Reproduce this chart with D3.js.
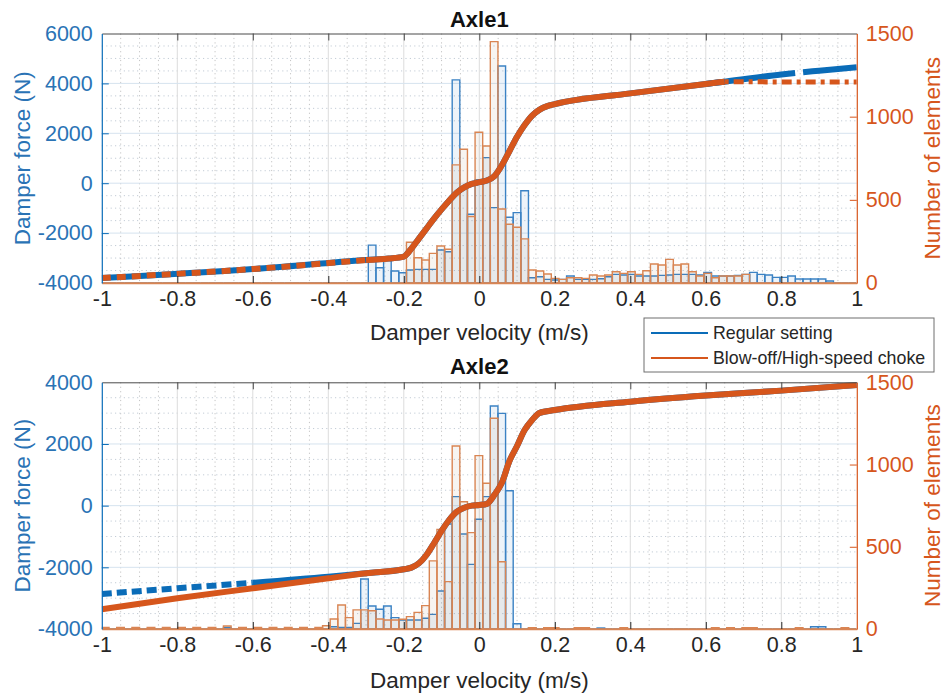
<!DOCTYPE html>
<html><head><meta charset="utf-8">
<script src="https://cdn.jsdelivr.net/npm/d3@7"></script>
<style>
body{margin:0;background:#fff}
svg{display:block}
text{font-family:"Liberation Sans",Arial,Helvetica,sans-serif}
</style>
</head><body>
<svg id="chart" width="944" height="697"></svg>
<script>
// ---------------- DATA ----------------
const velocityTicks = [-1, -0.8, -0.6, -0.4, -0.2, 0, 0.2, 0.4, 0.6, 0.8, 1];
const velocityTickLabels = ["-1", "-0.8", "-0.6", "-0.4", "-0.2", "0", "0.2", "0.4", "0.6", "0.8", "1"];
const axle1ForceTicks = [-4000, -2000, 0, 2000, 4000, 6000];
const axle2ForceTicks = [-4000, -2000, 0, 2000, 4000];
const countTicks = [0, 500, 1000, 1500];
const seriesNames = ["Regular setting", "Blow-off/High-speed choke"];
const panelTitles = ["Axle1", "Axle2"];

// damper characteristic curves (velocity m/s -> force N)
const axle1Velocity = [-1, -0.6, -0.3, -0.24, -0.2, -0.18, -0.16, -0.14, -0.12, -0.1, -0.08, -0.06, -0.04, -0.02, 0, 0.02, 0.04, 0.06, 0.08, 0.1, 0.12, 0.14, 0.16, 0.18, 0.2, 0.4, 0.6, 0.65, 0.8, 0.9, 1];
const axle1ForceRegular = [-3800, -3440, -3080, -3020, -2940, -2620, -2220, -1820, -1420, -1050, -700, -380, -165, -30, 40, 110, 280, 730, 1290, 1860, 2330, 2710, 2950, 3090, 3170, 3600, 3980, 4070, 4360, 4510, 4650];
const axle1ForceBlowoff = [-3800, -3440, -3080, -3020, -2940, -2620, -2220, -1820, -1420, -1050, -700, -380, -165, -30, 40, 110, 280, 730, 1290, 1860, 2330, 2710, 2950, 3090, 3170, 3600, 3980, 4070, 4060, 4060, 4060];

const axle2Velocity = [-1, -0.8, -0.6, -0.4, -0.3, -0.2, -0.18, -0.16, -0.14, -0.12, -0.1, -0.08, -0.06, -0.04, -0.02, 0, 0.02, 0.04, 0.06, 0.08, 0.1, 0.12, 0.14, 0.16, 0.2, 0.4, 0.6, 0.8, 1];
const axle2ForceRegular = [-2865, -2680, -2500, -2305, -2190, -2064, -2010, -1870, -1600, -1220, -820, -465, -200, -70, 0, 20, 60, 350, 750, 1450, 1935, 2450, 2780, 3010, 3100, 3370, 3570, 3730, 3910];
const axle2ForceBlowoff = [-3360, -3004, -2680, -2356, -2194, -2064, -2010, -1870, -1600, -1220, -820, -465, -200, -70, 0, 20, 60, 350, 750, 1450, 1935, 2450, 2780, 3010, 3100, 3370, 3570, 3730, 3910];

// velocity histograms (common bins)
const binFirstEdge = -1.001;
const binWidth = 0.0202;
const binTotal = 99;

const axle1RegularFirstBin = 35;
const axle1RegularCounts = [228, 92, 148, 72, 62, 78, 82, 82, 82, 198, 188,
  1221, 579, 413, 619, 754, 453, 1305, 395, 423, 555,
  32, 38, 22, 18, 22, 42, 22, 22, 22, 26,
  38, 52, 48, 52, 42, 42, 42, 46, 48, 52,
  52, 52, 48, 64, 42, 42, 42, 46, 52, 64,
  52, 48, 34, 34, 42, 24, 24, 24, 24, 12];
const axle1BlowoffFirstBin = 40;
const axle1BlowoffCounts = [245, 152, 138, 178, 222, 203,
  710, 804, 400, 906, 824, 1451, 445, 353, 335, 265,
  78, 72, 54, 28, 22, 32, 32, 28, 48, 42,
  48, 68, 58, 68, 52, 74, 114, 108, 142, 108,
  114, 68, 42, 58, 32, 42, 42, 42, 52];

const axle2RegularFirstBin = 16;
const axle2RegularCounts = [10, 0, 0, 0, 0, 0, 0, 0, 0, 0, 0, 0, 0, 0,
  14, 10, 10, 34, 304, 140, 120, 140, 69, 55, 55, 55, 65, 89, 231,
  638, 805, 578, 393, 667, 805, 1356, 1311, 841, 32,
  0, 6, 0, 0, 0, 0, 0, 0, 0, 0, 6,
  0, 0, 0, 0, 0, 0, 0, 0, 0, 0, 0, 0, 0, 0, 0, 0, 0, 0, 0, 0, 0, 0, 0, 0, 0, 0, 0,
  14, 14];
const axle2BlowoffFirstBin = 0;
const axle2BlowoffCounts = [9, 0, 9, 0, 9, 0, 9, 0, 9, 0, 9, 0, 9, 0, 9, 0, 18, 0, 9, 0, 9, 0, 9, 0, 9, 0, 9, 0, 9,
  20, 61, 146, 69, 116, 116, 111, 61, 55, 55, 59, 75, 101, 142, 414, 606,
  288, 1113, 774, 586, 1054, 886, 1281, 409, 0, 0,
  0, 8, 0, 8, 8, 0, 0, 8, 8, 0, 0, 0, 0, 8,
  0, 0, 0, 0, 0, 0, 0, 0, 0, 0, 0, 8, 0, 8, 0, 8, 8, 0, 0, 0, 0, 0, 8, 0, 0, 0, 0, 0, 8];

// ---------------- STYLE ----------------
const BLUE = "#0a6cb8";
const BLUE_TEXT = "#2a73b5";
const ORANGE = "#d6561c";
const BLUE_HIST = "#3b82c4";
const ORANGE_HIST = "#d98553";
const DARK = "#262626";
const FONT = 21.5;
const LABEL_FONT = 22.5;

const svg = d3.select("#chart");
const plainNumber = d => String(d);

function panel(cfg) {
  const g = svg.append("g");
  const x = d3.scaleLinear().domain([-1, 1]).range([cfg.left, cfg.right]);
  const yL = d3.scaleLinear().domain(cfg.forceDomain).range([cfg.bottom, cfg.top]);
  const yR = d3.scaleLinear().domain([0, 1500]).range([cfg.bottom, cfg.top]);

  const clipId = "clip" + cfg.id;
  svg.append("clipPath").attr("id", clipId).append("rect")
    .attr("x", cfg.left).attr("y", cfg.top)
    .attr("width", cfg.right - cfg.left).attr("height", cfg.bottom - cfg.top);

  // minor grid
  const xMinor = x.ticks(40).filter(v => !velocityTicks.some(t => Math.abs(t - v) < 1e-9));
  g.append("g").selectAll("line").data(xMinor).join("line")
    .attr("x1", d => x(d)).attr("x2", d => x(d)).attr("y1", cfg.top).attr("y2", cfg.bottom)
    .attr("stroke", "#c4c4c4").attr("stroke-width", 1).attr("stroke-dasharray", "1.2,3.2");
  const yMinor = d3.range(cfg.forceDomain[0], cfg.forceDomain[1] + 1, 500).filter(v => v % 2000 !== 0);
  g.append("g").selectAll("line").data(yMinor).join("line")
    .attr("x1", cfg.left).attr("x2", cfg.right).attr("y1", d => yL(d)).attr("y2", d => yL(d))
    .attr("stroke", "#c3ccd6").attr("stroke-width", 1).attr("stroke-dasharray", "1.2,3.2");
  // major grid
  g.append("g").selectAll("line").data(velocityTicks.slice(1, -1)).join("line")
    .attr("x1", d => x(d)).attr("x2", d => x(d)).attr("y1", cfg.top).attr("y2", cfg.bottom)
    .attr("stroke", "#dcdcdc").attr("stroke-width", 1);
  g.append("g").selectAll("line").data(cfg.forceTicks.slice(1, -1)).join("line")
    .attr("x1", cfg.left).attr("x2", cfg.right).attr("y1", d => yL(d)).attr("y2", d => yL(d))
    .attr("stroke", "#d6e3ef").attr("stroke-width", 1);

  // histograms
  function hist(counts, firstBin, stroke, fill) {
    const bins = d3.range(binTotal).map(i => {
      const j = i - firstBin;
      return { x0: binFirstEdge + i * binWidth, n: (j >= 0 && j < counts.length) ? counts[j] : 0 };
    });
    g.append("g").attr("clip-path", `url(#${clipId})`)
      .selectAll("path").data(bins).join("path")
      .attr("d", d => {
        const xa = x(d.x0), xb = x(d.x0 + binWidth), yb = yR(0), yt = yR(d.n);
        return `M${xa},${yb}V${yt}H${xb}V${yb}Z`;
      })
      .attr("fill", fill).attr("stroke", stroke).attr("stroke-width", 1.4);
  }
  hist(cfg.regCounts, cfg.regFirst, BLUE_HIST, "rgba(0,90,170,0.07)");
  hist(cfg.blowCounts, cfg.blowFirst, ORANGE_HIST, "rgba(150,110,80,0.08)");

  // curves
  const cg = g.append("g").attr("clip-path", `url(#${clipId})`);
  const line = d3.line().x(d => x(d.v)).y(d => yL(d.f)).curve(d3.curveMonotoneX);
  const reg = cfg.velocity.map((v, i) => ({ v, f: cfg.regForce[i] }));
  const blow = cfg.velocity.map((v, i) => ({ v, f: cfg.blowForce[i] }));
  cfg.drawCurves(cg, line, reg, blow);

  // box / axes
  const top = d3.axisTop(x).tickValues(velocityTicks).tickSizeInner(-7).tickSizeOuter(0).tickFormat("");
  const gt = g.append("g").attr("transform", `translate(0,${cfg.top})`).call(top);
  gt.attr("color", "#4a4a4a");
  gt.selectAll(".tick line").filter((d, i) => i === 0 || i === velocityTicks.length - 1).remove();

  const bottom = d3.axisBottom(x).tickValues(velocityTicks).tickSizeInner(-7).tickSizeOuter(0)
    .tickPadding(8).tickFormat((d, i) => velocityTickLabels[i]);
  const gb = g.append("g").attr("transform", `translate(0,${cfg.bottom})`).call(bottom);
  gb.attr("color", DARK).attr("font-size", FONT).attr("font-family", null);
  gb.select(".domain").attr("stroke", ORANGE_HIST).attr("stroke-width", 1.5);
  gb.selectAll(".tick line").filter((d, i) => i === 0 || i === velocityTicks.length - 1).remove();

  const left = d3.axisLeft(yL).tickValues(cfg.forceTicks).tickFormat(plainNumber)
    .tickSizeInner(-7).tickSizeOuter(0).tickPadding(9);
  const gl = g.append("g").attr("transform", `translate(${cfg.left},0)`).call(left);
  gl.attr("color", BLUE).attr("font-size", FONT).attr("font-family", null);
  gl.selectAll("text").attr("fill", BLUE_TEXT);
  gl.select(".domain").attr("stroke-width", 1.2);
  gl.selectAll(".tick line").filter((d, i) => i === 0 || i === cfg.forceTicks.length - 1).remove();

  const right = d3.axisRight(yR).tickValues(countTicks).tickFormat(plainNumber)
    .tickSizeInner(-7).tickSizeOuter(0).tickPadding(9);
  const gr = g.append("g").attr("transform", `translate(${cfg.right},0)`).call(right);
  gr.attr("color", ORANGE).attr("font-size", FONT).attr("font-family", null);
  gr.select(".domain").attr("stroke-width", 1.2);
  gr.selectAll(".tick line").filter((d, i) => i === 0 || i === countTicks.length - 1).remove();

  // labels
  const cx = (cfg.left + cfg.right) / 2, cy = (cfg.top + cfg.bottom) / 2;
  g.append("text").attr("x", cx).attr("y", cfg.titleY).attr("text-anchor", "middle")
    .attr("font-size", 22).attr("font-weight", "bold").attr("fill", "#111").text(cfg.title);
  g.append("text").attr("x", cx).attr("y", cfg.xLabelY).attr("text-anchor", "middle")
    .attr("font-size", LABEL_FONT).attr("fill", DARK).text("Damper velocity (m/s)");
  g.append("text").attr("transform", `translate(30,${cy}) rotate(-90)`).attr("text-anchor", "middle")
    .attr("font-size", LABEL_FONT).attr("fill", BLUE_TEXT).text("Damper force (N)");
  g.append("text").attr("transform", `translate(940,${cy}) rotate(-90)`).attr("text-anchor", "middle")
    .attr("font-size", LABEL_FONT).attr("fill", ORANGE).text("Number of elements");
}

panel({
  id: 1, left: 101.8, right: 856.8, top: 33.5, bottom: 283,
  forceDomain: [-4000, 6000], forceTicks: axle1ForceTicks, title: panelTitles[0],
  titleY: 27, xLabelY: 340,
  velocity: axle1Velocity, regForce: axle1ForceRegular, blowForce: axle1ForceBlowoff,
  regCounts: axle1RegularCounts, regFirst: axle1RegularFirstBin,
  blowCounts: axle1BlowoffCounts, blowFirst: axle1BlowoffFirstBin,
  drawCurves: (cg, line, reg, blow) => {
    cg.append("path").attr("d", line(reg.filter(d => d.v <= 0.66))).attr("fill", "none")
      .attr("stroke", BLUE).attr("stroke-width", 6);
    cg.append("path").attr("d", line(reg.filter(d => d.v >= 0.6))).attr("fill", "none")
      .attr("stroke", BLUE).attr("stroke-width", 6).attr("stroke-dasharray", "90,8,200");
    cg.append("path").attr("d", line(blow.filter(d => d.v <= -0.3))).attr("fill", "none")
      .attr("stroke", ORANGE).attr("stroke-width", 6).attr("stroke-dasharray", "9,6");
    cg.append("path").attr("d", line(blow.filter(d => d.v >= -0.3 && d.v <= 0.65))).attr("fill", "none")
      .attr("stroke", ORANGE).attr("stroke-width", 6);
    cg.append("path").attr("d", line(blow.filter(d => d.v >= 0.65))).attr("fill", "none")
      .attr("stroke", ORANGE).attr("stroke-width", 5).attr("stroke-dasharray", "4,5,10,5");
  }
});

panel({
  id: 2, left: 101.8, right: 856.8, top: 382.3, bottom: 629,
  forceDomain: [-4000, 4000], forceTicks: axle2ForceTicks, title: panelTitles[1],
  titleY: 374, xLabelY: 688,
  velocity: axle2Velocity, regForce: axle2ForceRegular, blowForce: axle2ForceBlowoff,
  regCounts: axle2RegularCounts, regFirst: axle2RegularFirstBin,
  blowCounts: axle2BlowoffCounts, blowFirst: axle2BlowoffFirstBin,
  drawCurves: (cg, line, reg, blow) => {
    cg.append("path").attr("d", line(reg.filter(d => d.v <= -0.6))).attr("fill", "none")
      .attr("stroke", BLUE).attr("stroke-width", 6).attr("stroke-dasharray", "10,5");
    cg.append("path").attr("d", line(reg.filter(d => d.v >= -0.6))).attr("fill", "none")
      .attr("stroke", BLUE).attr("stroke-width", 6);
    cg.append("path").attr("d", line(blow)).attr("fill", "none")
      .attr("stroke", ORANGE).attr("stroke-width", 6);
  }
});

// legend
const lg = svg.append("g").attr("transform", "translate(644,318)");
lg.append("rect").attr("width", 290).attr("height", 54).attr("fill", "#fff").attr("stroke", "#6e6e6e").attr("stroke-width", 1);
[BLUE, ORANGE].forEach((c, i) => {
  const yy = 15 + i * 25;
  lg.append("line").attr("x1", 7).attr("x2", 64).attr("y1", yy).attr("y2", yy).attr("stroke", c).attr("stroke-width", 2);
  lg.append("text").attr("x", 69).attr("y", yy + 6).attr("font-size", 17.8).attr("fill", DARK).text(seriesNames[i]);
});
</script>
</body></html>
